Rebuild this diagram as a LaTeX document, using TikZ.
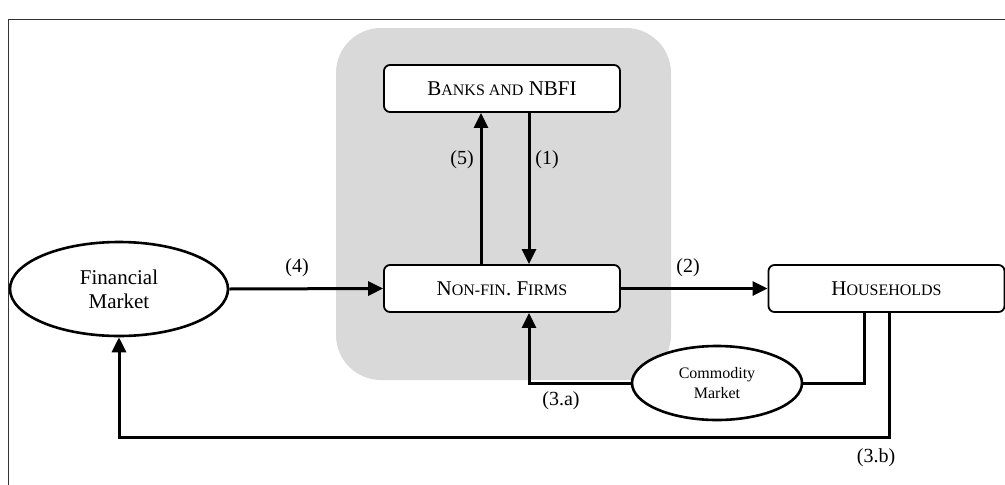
\documentclass[tikz,border=0pt]{standalone}
\usepackage{fontspec}
\setmainfont{Liberation Serif}
\usetikzlibrary{arrows.meta,shapes.geometric}
\newcommand{\mysc}[1]{{\fontsize{16}{19}\selectfont #1}}
\begin{document}
\begin{tikzpicture}[x=1pt,y=-1pt,
  box/.style={draw,line width=1.8pt,rounded corners=6pt,fill=white,minimum width=236pt,minimum height=47pt,inner sep=0pt,font=\fontsize{21}{24}\selectfont},
  ell/.style={draw,ellipse,line width=2.6pt,fill=white,inner sep=0pt,align=center},
  flow/.style={line width=3pt,-{Triangle[length=15pt,width=14pt]}},
  plain/.style={line width=3pt},
  lbl/.style={font=\fontsize{20}{24}\selectfont,inner sep=0pt}]
\useasboundingbox (0,0) rectangle (1005,485);
\draw[line width=0.8pt,black!80] (1005,19) -- (8,19) -- (8,485);
\fill[black!15,rounded corners=45pt] (336,28) rectangle (671,380);
\coordinate (c5) at (481,0);
\coordinate (c1) at (529,0);
\coordinate (h1) at (864,0);
\coordinate (h2) at (889,0);
\coordinate (b3) at (0,437);
\node[box] (banks) at (502,88.5) {B\mysc{ANKS AND} NBFI};
\node[box] (firms) at (502,288.5) {N\mysc{ON-FIN}. F\mysc{IRMS}};
\node[box] (house) at (886.5,288.5) {H\mysc{OUSEHOLDS}};
\node[ell,minimum width=218pt,minimum height=94pt,font=\fontsize{21}{24}\selectfont] (fin) at (119,289) {Financial\\Market};
\node[ell,minimum width=170pt,minimum height=74pt,font=\fontsize{16}{20}\selectfont] (com) at (717,383) {Commodity\\Market};
\draw[flow] (firms.north -| c5) -- (banks.south -| c5);
\draw[flow] (banks.south -| c1) -- (firms.north -| c1);
\draw[flow] (fin.east) -- (firms.west);
\draw[flow] (firms.east) -- (house.west);
\draw[flow] (com.west) -| (firms.south -| c1);
\draw[plain] (com.east) -| (house.south -| h1);
\draw[flow] (house.south -| h2) |- (b3 -| fin.south) -- (fin.south);
\node[lbl] (l5) at (462,160) {(5)};
\node[lbl] (l1) at (547,160) {(1)};
\node[lbl] (l4) at (297,268) {(4)};
\node[lbl] (l2) at (688,268) {(2)};
\node[lbl] (l3a) at (561,401) {(3.a)};
\node[lbl] (l3b) at (876,458) {(3.b)};
\end{tikzpicture}
\end{document}
